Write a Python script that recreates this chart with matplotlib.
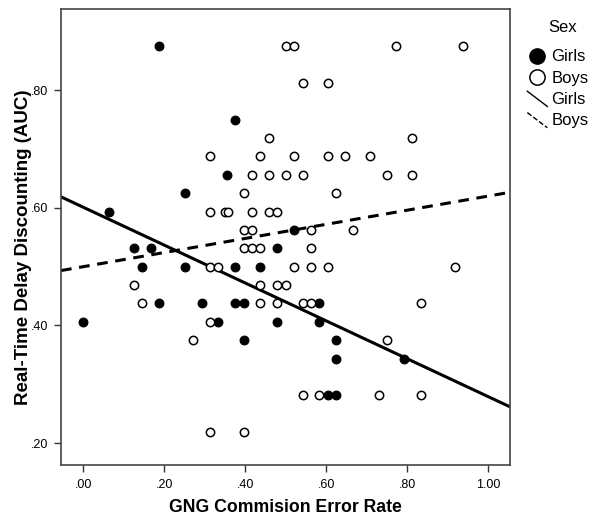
import matplotlib.pyplot as plt
import numpy as np
from matplotlib.lines import Line2D
from matplotlib.legend_handler import HandlerBase

plt.rcParams['font.family'] = ['Liberation Sans', 'DejaVu Sans']

# girls (filled)
girls_x = [0.1875, 0.375, 0.354, 0.25, 0.0625, 0.521, 0.125, 0.167, 0.479,
           0.146, 0.25, 0.375, 0.4375, 0.1875, 0.292, 0.375, 0.396, 0.583,
           0.0, 0.333, 0.479, 0.583, 0.396, 0.625, 0.625, 0.792, 0.604, 0.625]
girls_y = [0.875, 0.75, 0.65625, 0.625, 0.59375, 0.5625, 0.53125, 0.53125, 0.53125,
           0.5, 0.5, 0.5, 0.5, 0.4375, 0.4375, 0.4375, 0.4375, 0.4375,
           0.40625, 0.40625, 0.40625, 0.40625, 0.375, 0.375, 0.34375, 0.34375, 0.28125, 0.28125]

# boys (open)
boys_x = [0.5, 0.521, 0.771, 0.9375,
          0.542, 0.604,
          0.458, 0.8125,
          0.3125, 0.4375, 0.521, 0.604, 0.646, 0.708,
          0.417, 0.458, 0.5, 0.542, 0.75, 0.8125,
          0.396, 0.625,
          0.3125, 0.35, 0.358, 0.417, 0.458, 0.479,
          0.396, 0.417, 0.5625, 0.667,
          0.396, 0.417, 0.4375, 0.5625,
          0.3125, 0.333, 0.521, 0.5625, 0.604, 0.917,
          0.125, 0.4375, 0.479, 0.5,
          0.146, 0.4375, 0.479, 0.542, 0.5625, 0.833,
          0.3125,
          0.271, 0.75,
          0.542, 0.583, 0.729, 0.833,
          0.3125, 0.396]
boys_y = [0.875, 0.875, 0.875, 0.875,
          0.8125, 0.8125,
          0.71875, 0.71875,
          0.6875, 0.6875, 0.6875, 0.6875, 0.6875, 0.6875,
          0.65625, 0.65625, 0.65625, 0.65625, 0.65625, 0.65625,
          0.625, 0.625,
          0.59375, 0.59375, 0.59375, 0.59375, 0.59375, 0.59375,
          0.5625, 0.5625, 0.5625, 0.5625,
          0.53125, 0.53125, 0.53125, 0.53125,
          0.5, 0.5, 0.5, 0.5, 0.5, 0.5,
          0.46875, 0.46875, 0.46875, 0.46875,
          0.4375, 0.4375, 0.4375, 0.4375, 0.4375, 0.4375,
          0.40625,
          0.375, 0.375,
          0.28125, 0.28125, 0.28125, 0.28125,
          0.21875, 0.21875]

# fit lines (intercept, slope)
girls_fit = (0.601, -0.322)
boys_fit = (0.500, 0.120)

xticks = [0, 0.2, 0.4, 0.6, 0.8, 1.0]
xticklabels = ['.00', '.20', '.40', '.60', '.80', '1.00']
yticks = [0.2, 0.4, 0.6, 0.8]
yticklabels = ['.20', '.40', '.60', '.80']


class DiagHandler(HandlerBase):
    # short slanted line like the SPSS legend
    def create_artists(self, legend, orig_handle, xdescent, ydescent,
                       width, height, fontsize, trans):
        ln = Line2D([-xdescent, width - xdescent], [height * 1.1, -height * 0.2],
                    color='black', lw=1, ls=orig_handle.get_linestyle())
        ln.set_transform(trans)
        return [ln]


fig = plt.figure(figsize=(6.04, 5.28), dpi=100)
ax = fig.add_axes([0.101, 0.119, 0.743, 0.864])

xlim = (-0.055, 1.053)
ax.set_xlim(*xlim)
ax.set_ylim(0.1626, 0.938)

ax.scatter(girls_x, girls_y, s=40, c='black', edgecolors='black', linewidths=0.8, zorder=3)
ax.scatter(boys_x, boys_y, s=36, facecolors='white', edgecolors='black', linewidths=1.1, zorder=3)

xs = np.array(xlim)
ax.plot(xs, girls_fit[0] + girls_fit[1] * xs, color='black', lw=2.2, zorder=2)
ax.plot(xs, boys_fit[0] + boys_fit[1] * xs, color='black', lw=2.2, ls=(0, (3.5, 2.5)), zorder=2)

ax.set_xticks(xticks)
ax.set_xticklabels(xticklabels)
ax.set_yticks(yticks)
ax.set_yticklabels(yticklabels)
ax.tick_params(labelsize=9, length=5, width=1, color='#333333', direction='out', pad=4)
ax.tick_params(axis='x', pad=5)
for s in ax.spines.values():
    s.set_color('#444444')
    s.set_linewidth(1.2)

ax.set_xlabel('GNG Commision Error Rate', fontsize=12.7, fontweight='bold')
ax.set_ylabel('Real-Time Delay Discounting (AUC)', fontsize=13.5, fontweight='bold')
ax.xaxis.set_label_coords(0.5, -0.075)
ax.yaxis.set_label_coords(-0.065, 0.478)

handles = [
    Line2D([], [], marker='o', ls='none', color='black', markersize=11),
    Line2D([], [], marker='o', ls='none', markerfacecolor='white', markeredgecolor='black',
           markeredgewidth=1.1, markersize=11),
    Line2D([], [], color='black', lw=1, ls='-'),
    Line2D([], [], color='black', lw=1, ls=(0, (2, 3))),
]
fig.text(563 / 604, 1 - 28 / 528, 'Sex', fontsize=12, ha='center', va='center')
leg = fig.legend(handles, ['Girls', 'Boys', 'Girls', 'Boys'],
                 loc='upper left', bbox_to_anchor=(0.862, 0.919), frameon=False,
                 fontsize=12, handlelength=1.2, handletextpad=0.25,
                 labelspacing=0.38, borderaxespad=0,
                 handler_map={handles[2]: DiagHandler(), handles[3]: DiagHandler()})

fig.savefig('out.png', dpi=100)
